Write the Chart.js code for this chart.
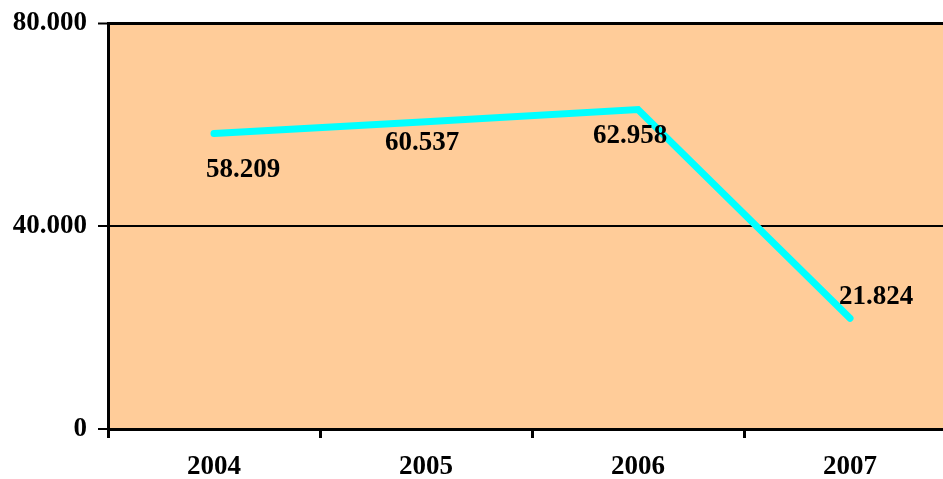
<!DOCTYPE html>
<html>
<head>
<meta charset="utf-8">
<script src="https://cdn.jsdelivr.net/npm/chart.js@4"></script>
<style>
html,body{margin:0;padding:0;background:#fff;overflow:hidden;}
#wrap{width:960px;height:479px;position:relative;}
</style>
</head>
<body>
<div id="wrap"><canvas id="c"></canvas></div>
<script>
const categories = ['2004', '2005', '2006', '2007'];
const values = [58209, 60537, 62958, 21824];
const yTicks = [0, 40000, 80000];

function fmt(v) {
  return String(v).replace(/\B(?=(\d{3})+(?!\d))/g, '.');
}

const FONT = "'Liberation Serif', 'Times New Roman', serif";

const bgPlugin = {
  id: 'bg',
  beforeDraw(chart) {
    const {ctx, chartArea: a} = chart;
    ctx.save();
    ctx.fillStyle = '#FFCC99';
    ctx.fillRect(a.left, a.top, a.right - a.left, a.bottom - a.top);
    ctx.restore();
  }
};

const labelPlugin = {
  id: 'vlabels',
  afterDatasetsDraw(chart, args, opts) {
    const {ctx} = chart;
    const meta = chart.getDatasetMeta(0);
    ctx.save();
    ctx.font = 'bold 27px ' + FONT;
    ctx.fillStyle = '#000';
    ctx.textAlign = 'center';
    ctx.textBaseline = 'middle';
    meta.data.forEach((pt, i) => {
      const o = opts.offsets[i];
      ctx.fillText(fmt(values[i]), pt.x + o[0], pt.y + o[1]);
    });
    ctx.restore();
  }
};

new Chart(document.getElementById('c'), {
  type: 'line',
  data: {
    labels: categories,
    datasets: [{
      data: values,
      borderColor: '#00FFFF',
      borderWidth: 7,
      borderCapStyle: 'round',
      borderJoinStyle: 'miter',
      pointRadius: 0,
      tension: 0,
      fill: false
    }]
  },
  options: {
    responsive: true,
    maintainAspectRatio: false,
    animation: false,
    layout: {padding: {top: 23, right: 4, left: 0, bottom: 0}},
    plugins: {
      legend: {display: false},
      tooltip: {enabled: false},
      vlabels: {offsets: [[29, 36], [-4, 21], [-8, 27], [26, -21]]}
    },
    scales: {
      x: {
        type: 'category',
        offset: true,
        grid: {
          offset: true,
          drawOnChartArea: false,
          drawTicks: true,
          tickLength: 9,
          tickWidth: 3,
          tickColor: '#000'
        },
        border: {display: true, color: '#000', width: 3},
        ticks: {
          color: '#000',
          padding: 13,
          font: {family: FONT, size: 27, weight: 'bold'}
        },
        afterFit(s) { s.height = 50; s.paddingLeft = 0; s.paddingRight = 0; }
      },
      y: {
        min: 0,
        max: 80000,
        afterBuildTicks(s) { s.ticks = yTicks.map(v => ({value: v})); },
        grid: {
          color: '#000',
          lineWidth: c => (c.tick && c.tick.value === 80000 ? 3 : 2),
          drawTicks: true,
          tickLength: 10,
          tickWidth: 2,
          tickColor: '#000'
        },
        border: {display: true, color: '#000', width: 3},
        ticks: {
          color: '#000',
          padding: 11,
          font: {family: FONT, size: 27, weight: 'bold'},
          callback: v => fmt(v)
        },
        afterFit(s) { s.width = 108; s.paddingTop = 0; s.paddingBottom = 0; }
      }
    }
  },
  plugins: [bgPlugin, labelPlugin]
});
</script>
</body>
</html>
